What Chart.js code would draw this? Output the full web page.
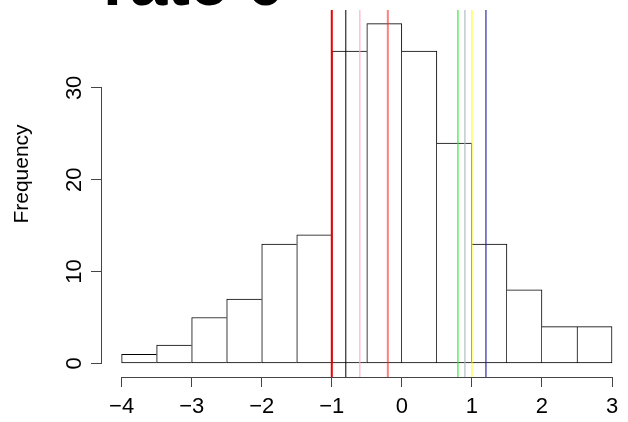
<!DOCTYPE html>
<html>
<head>
<meta charset="utf-8">
<script src="https://cdn.jsdelivr.net/npm/chart.js@4/dist/chart.umd.min.js"></script>
<style>
    html, body { margin: 0; padding: 0; background: #fff; }
</style>
</head>
<body>
<canvas id="chart" width="628" height="422"></canvas>
<script>
// histogram bins (0.5 wide), midpoints and counts
const binMids = [-3.75, -3.25, -2.75, -2.25, -1.75, -1.25, -0.75, -0.25, 0.25, 0.75, 1.25, 1.75, 2.25, 2.75];
const counts = [1, 2, 5, 7, 13, 14, 34, 37, 34, 24, 13, 8, 4, 4];

const xTicks = [-4, -3, -2, -1, 0, 1, 2, 3];
const yTicks = [0, 10, 20, 30];

// vertical reference lines
const lineValues = [-1, -0.8, -0.6, -0.2, 0.8, 0.9, 1.0, 1.2];
const lineColors = ['#ee0000', '#000000', 'rgba(255,170,190,0.75)', 'rgba(255,40,40,0.6)',
    'rgba(40,235,40,0.75)', 'rgba(170,185,190,0.75)', 'rgba(255,255,0,0.7)', 'rgba(30,30,160,0.75)'];
const lineWidths = [2, 1, 1.5, 2, 1.5, 1.5, 1.5, 1.5];

const titleText = 'rate 0';
const yLabel = 'Frequency';

const FONT = '"Liberation Sans", Arial, Helvetica, sans-serif';
const xMin = -4.28, xMax = 3.228;
const yMin = -1.48, yMax = 38.48;

function fmt(v) {
    return v < 0 ? '\u2212' + Math.abs(v) : String(v);
}

// give each shared edge to the taller bar so it is drawn once
function barBorder(ctx) {
    const i = ctx.dataIndex;
    const last = counts.length - 1;
    return {
        top: 1,
        bottom: 1,
        left: (i === 0 || counts[i] >= counts[i - 1]) ? 1 : 0,
        right: (i === last || counts[i] > counts[i + 1]) ? 1 : 0
    };
}

let datasets = [{
    type: 'bar',
    data: binMids.map(function (m, i) { return {x: m, y: counts[i]}; }),
    backgroundColor: '#ffffff',
    borderColor: '#000000',
    borderWidth: barBorder,
    borderSkipped: false,
    barPercentage: 1,
    categoryPercentage: 1,
    order: 2
}];

lineValues.forEach(function (v, i) {
    datasets.push({
        type: 'line',
        data: [{x: v, y: yMin}, {x: v, y: yMax}],
        borderColor: lineColors[i],
        borderWidth: lineWidths[i],
        pointRadius: 0,
        order: 1
    });
});

const rStyle = {
    id: 'rStyle',
    afterDraw: function (chart) {
        const ctx = chart.ctx;
        const xs = chart.scales.x, ys = chart.scales.y;
        const area = chart.chartArea;
        ctx.save();
        ctx.strokeStyle = '#444';
        ctx.lineWidth = 1;
        // axis lines only across the tick range, like base R
        ctx.beginPath();
        ctx.moveTo(Math.round(area.left) - 0.5, ys.getPixelForValue(yTicks[0]));
        ctx.lineTo(Math.round(area.left) - 0.5, ys.getPixelForValue(yTicks[yTicks.length - 1]));
        ctx.moveTo(xs.getPixelForValue(xTicks[0]), Math.round(area.bottom) + 0.5);
        ctx.lineTo(xs.getPixelForValue(xTicks[xTicks.length - 1]), Math.round(area.bottom) + 0.5);
        ctx.stroke();

        ctx.fillStyle = '#000';
        ctx.font = '22px ' + FONT;
        ctx.textAlign = 'center';
        ctx.textBaseline = 'middle';
        yTicks.forEach(function (v) {
            ctx.save();
            ctx.translate(75, ys.getPixelForValue(v));
            ctx.rotate(-Math.PI / 2);
            ctx.fillText(String(v), 0, 0);
            ctx.restore();
        });

        ctx.font = '21px ' + FONT;
        ctx.save();
        ctx.translate(22, 174);
        ctx.rotate(-Math.PI / 2);
        ctx.fillText(yLabel, 0, 0);
        ctx.restore();

        ctx.font = 'bold 68px ' + FONT;
        ctx.textAlign = 'left';
        ctx.textBaseline = 'alphabetic';
        ctx.fillText(titleText, 103, 5);
        ctx.restore();
    }
};

new Chart(document.getElementById('chart'), {
    data: {datasets: datasets},
    options: {
        responsive: false,
        animation: false,
        devicePixelRatio: 1,
        layout: {padding: {top: 10, right: 0, left: 0, bottom: 0}},
        plugins: {
            legend: {display: false},
            tooltip: {enabled: false}
        },
        scales: {
            x: {
                type: 'linear',
                min: xMin,
                max: xMax,
                offset: false,
                afterBuildTicks: function (s) { s.ticks = xTicks.map(function (v) { return {value: v}; }); },
                afterFit: function (s) { s.height = 45; },
                border: {display: false},
                grid: {display: true, offset: false, drawOnChartArea: false, drawTicks: true, tickLength: 10, tickColor: '#444', tickWidth: 1},
                ticks: {
                    color: '#000',
                    font: {family: FONT, size: 22},
                    padding: 7,
                    maxRotation: 0,
                    autoSkip: false,
                    callback: function (v) { return fmt(v); }
                }
            },
            y: {
                type: 'linear',
                min: yMin,
                max: yMax,
                afterBuildTicks: function (s) { s.ticks = yTicks.map(function (v) { return {value: v}; }); },
                afterFit: function (s) { s.width = 102; },
                border: {display: false},
                grid: {display: true, drawOnChartArea: false, drawTicks: true, tickLength: 11, tickColor: '#444', tickWidth: 1},
                ticks: {display: false}
            }
        }
    },
    plugins: [rStyle]
});
</script>
</body>
</html>
